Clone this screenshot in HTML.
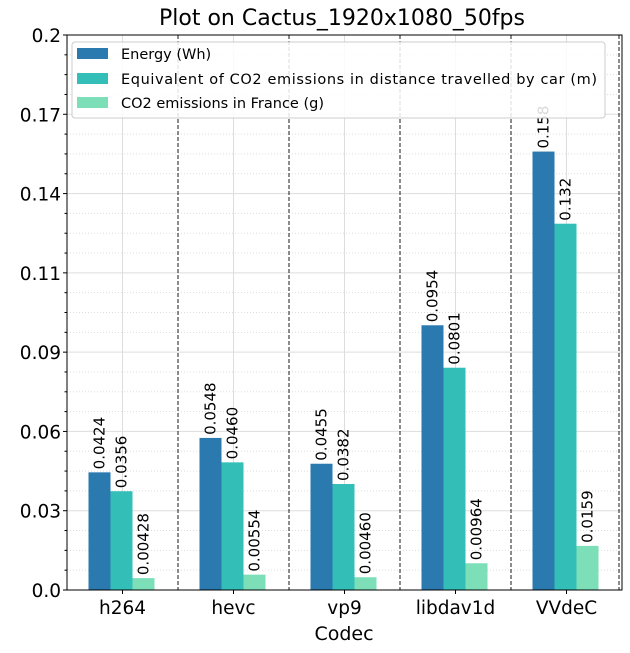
<!DOCTYPE html>
<html><head><meta charset="utf-8"><style>
body{margin:0;background:#fff}
svg{display:block;font-family:"DejaVu Sans","Liberation Sans",sans-serif}
</style></head><body>
<svg id="chart" width="630" height="653">
<text x="342" y="25" font-size="22" text-anchor="middle">Plot on Cactus_1920x1080_50fps</text>
<g id="grid"></g><g id="bars"></g><g id="axes"></g>
<text x="344" y="640" font-size="19" text-anchor="middle">Codec</text>
<g>
<rect x="72" y="42" width="533" height="76" rx="3" fill="#fff" fill-opacity="0.85" stroke="#ccc"/>
<rect x="77" y="48" width="31" height="11" fill="#2a7ab0"/>
<text x="121" y="59" font-size="14.5">Energy (Wh)</text>
<rect x="77" y="73" width="31" height="11" fill="#33bfb8"/>
<text x="121" y="84" font-size="14.5" textLength="476">Equivalent of CO2 emissions in distance travelled by car (m)</text>
<rect x="77" y="97" width="31" height="11" fill="#7ddfb8"/>
<text x="121" y="108" font-size="14.5">CO2 emissions in France (g)</text>
</g>
</svg>
<script>
const categories = ["h264","hevc","vp9","libdav1d","VVdeC"];
const energy = [0.0424,0.0548,0.0455,0.0954,0.158];
const car = [0.0356,0.0460,0.0382,0.0801,0.132];
const co2 = [0.00428,0.00554,0.00460,0.00964,0.0159];
const energyLabels = ["0.0424","0.0548","0.0455","0.0954","0.158"];
const carLabels = ["0.0356","0.0460","0.0382","0.0801","0.132"];
const co2Labels = ["0.00428","0.00554","0.00460","0.00964","0.0159"];
const yTickLabels = ["0.0","0.03","0.06","0.09","0.11","0.14","0.17","0.2"];
const yMax = 0.2;

const NS="http://www.w3.org/2000/svg";
const L=67,R=622,T=35,B=590;
const y=v=>B-(v/yMax)*(B-T);
const band=(R-L)/categories.length;
const xc=i=>L+band*(i+0.5);
function mk(tag,attrs,parent){const e=document.createElementNS(NS,tag);for(const k in attrs)e.setAttribute(k,attrs[k]);parent.appendChild(e);return e;}
const grid=document.getElementById('grid'),bars=document.getElementById('bars'),axes=document.getElementById('axes');
const nMaj=yTickLabels.length-1;
for(let j=0;j<=nMaj*4;j++){
  const v=yMax*j/(nMaj*4),yy=y(v);
  const l=mk('line',{x1:L,x2:R,y1:yy,y2:yy,stroke:'#ddd','stroke-width':1,'stroke-dasharray':j%4?'1,2':'none'},grid);
  
  
  const t=mk('line',{x1:L-(j%4?2.5:4),x2:L,y1:yy,y2:yy,stroke:'#000'},axes);
  
  
}
yTickLabels.forEach((s,j)=>{
  const t=mk('text',{x:L-6,y:y(yMax*j/nMaj)+7,'font-size':18.5,'text-anchor':'end'},axes);
  t.textContent=s;
  
  
});
categories.forEach((c,i)=>{
  const g=mk('line',{x1:xc(i),x2:xc(i),y1:T,y2:B,stroke:'#ddd'},grid);
  
  
  const sx=L+band*(i+1)-(i==categories.length-1?3:0);
  const d=mk('line',{x1:sx,x2:sx,y1:T,y2:B,stroke:'#000','stroke-width':0.9,'stroke-dasharray':'4,2'},grid);
  
  
  const tk=mk('line',{x1:xc(i),x2:xc(i),y1:B,y2:B+4,stroke:'#000'},axes);
  
  
  const tl=mk('text',{x:xc(i),y:B+24,'font-size':18.5,'text-anchor':'middle'},axes);
  tl.textContent=c;
  
  
});
const series=[[energy,energyLabels,'#2a7ab0','energy'],[car,carLabels,'#33bfb8','car'],[co2,co2Labels,'#7ddfb8','co2']];
const bw=22;
series.forEach((s,k)=>{
  s[0].forEach((v,i)=>{
    const x0=xc(i)-34+k*bw;
    const r=mk('rect',{x:x0,y:y(v),width:bw,height:B-y(v),fill:s[2]},bars);
    
    
    const tx=x0+bw/2+5,ty=y(v)-3;
    const t=mk('text',{x:tx,y:ty,'font-size':15,transform:`rotate(-90 ${tx} ${ty})`},bars);
    t.textContent=s[1][i];
    
    
  });
});
const fr=mk('rect',{x:L,y:T,width:R-L,height:B-T,fill:'none',stroke:'#000','stroke-width':1},axes);


</script>
</body></html>
